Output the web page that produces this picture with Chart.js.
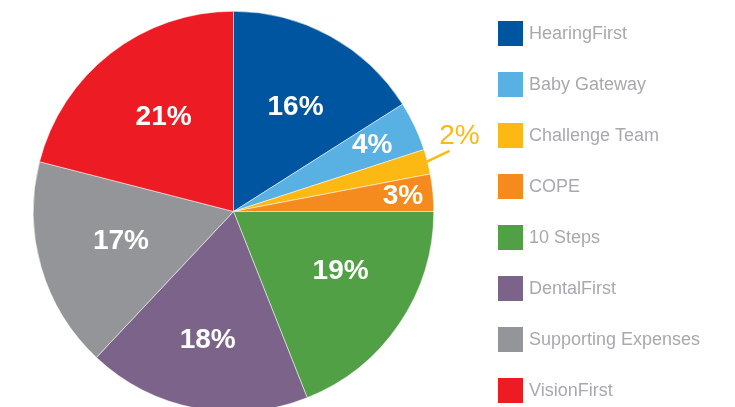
<!DOCTYPE html>
<html>
<head>
<meta charset="utf-8">
<script src="https://cdn.jsdelivr.net/npm/chart.js@4.4.1/dist/chart.umd.min.js"></script>
<style>
  html, body { margin: 0; padding: 0; background: #ffffff; overflow: hidden; }
  #wrap { position: absolute; left: 0; top: 0; width: 735px; height: 420px; }
</style>
</head>
<body>
<div id="wrap"><canvas id="c"></canvas></div>
<script>
const categories = ["HearingFirst", "Baby Gateway", "Challenge Team", "COPE", "10 Steps", "DentalFirst", "Supporting Expenses", "VisionFirst"];
const values = [16, 4, 2, 3, 19, 18, 17, 21];
const pctLabels = ["16%", "4%", "2%", "3%", "19%", "18%", "17%", "21%"];
const colors = ["#0055a0", "#58b0e3", "#fdb913", "#f58b1f", "#52a046", "#7b6389", "#939598", "#ed1c24"];

// label placement style (radius fraction, angular fraction within slice, outside flag)
const labelRadius = [0.61, 0.77, 0, 0.85, 0.61, 0.65, 0.58, 0.59];
const labelAngleFrac = [0.53, 0.45, 0.5, 0.5, 0.42, 0.51, 0.53, 0.52];
const labelOutside = [false, false, true, false, false, false, false, false];

const sliceLabels = {
  id: 'sliceLabels',
  afterDatasetsDraw(chart) {
    const ctx = chart.ctx;
    const meta = chart.getDatasetMeta(0);
    meta.data.forEach((arc, i) => {
      const p = arc.getProps(['x', 'y', 'startAngle', 'endAngle', 'outerRadius'], true);
      const a = p.startAngle + (p.endAngle - p.startAngle) * labelAngleFrac[i];
      ctx.save();
      if (labelOutside[i]) {
        const r0 = p.outerRadius - 1;
        const x0 = p.x + Math.cos(a) * r0, y0 = p.y + Math.sin(a) * r0;
        const la = a - 0.196;
        const x1 = x0 + Math.cos(la) * 25.5, y1 = y0 + Math.sin(la) * 25.5;
        ctx.strokeStyle = colors[i];
        ctx.lineWidth = 2.5;
        ctx.beginPath();
        ctx.moveTo(x0, y0);
        ctx.lineTo(x1, y1);
        ctx.stroke();
        ctx.fillStyle = colors[i];
        ctx.font = '28px "Liberation Sans", Arial, sans-serif';
        ctx.textAlign = 'center';
        ctx.textBaseline = 'middle';
        ctx.fillText(pctLabels[i], x1 + 10, y1 - 15);
      } else {
        const r = p.outerRadius * labelRadius[i];
        ctx.fillStyle = '#ffffff';
        ctx.font = 'bold 28px "Liberation Sans", Arial, sans-serif';
        ctx.textAlign = 'center';
        ctx.textBaseline = 'middle';
        ctx.fillText(pctLabels[i], p.x + Math.cos(a) * r, p.y + Math.sin(a) * r + 1);
      }
      ctx.restore();
    });
  }
};

const sideLegend = {
  id: 'sideLegend',
  afterDraw(chart) {
    const ctx = chart.ctx;
    const labels = chart.data.labels;
    const bg = chart.data.datasets[0].backgroundColor;
    ctx.save();
    ctx.font = '18px "Liberation Sans", Arial, sans-serif';
    ctx.textBaseline = 'middle';
    ctx.textAlign = 'left';
    labels.forEach((lab, i) => {
      const y = 21 + 51 * i;
      ctx.fillStyle = bg[i];
      ctx.fillRect(498, y, 25, 25);
      ctx.fillStyle = '#a7a9ac';
      ctx.fillText(lab, 529, y + 13);
    });
    ctx.restore();
  }
};

new Chart(document.getElementById('c'), {
  type: 'pie',
  data: {
    labels: categories,
    datasets: [{
      data: values,
      backgroundColor: colors,
      borderColor: '#ffffff',
      borderWidth: 0.5
    }]
  },
  options: {
    responsive: true,
    maintainAspectRatio: false,
    animation: false,
    layout: { padding: { left: 33, right: 301, top: 11, bottom: 8 } },
    plugins: {
      legend: { display: false },
      tooltip: { enabled: false }
    }
  },
  plugins: [sliceLabels, sideLegend]
});
</script>
</body>
</html>
